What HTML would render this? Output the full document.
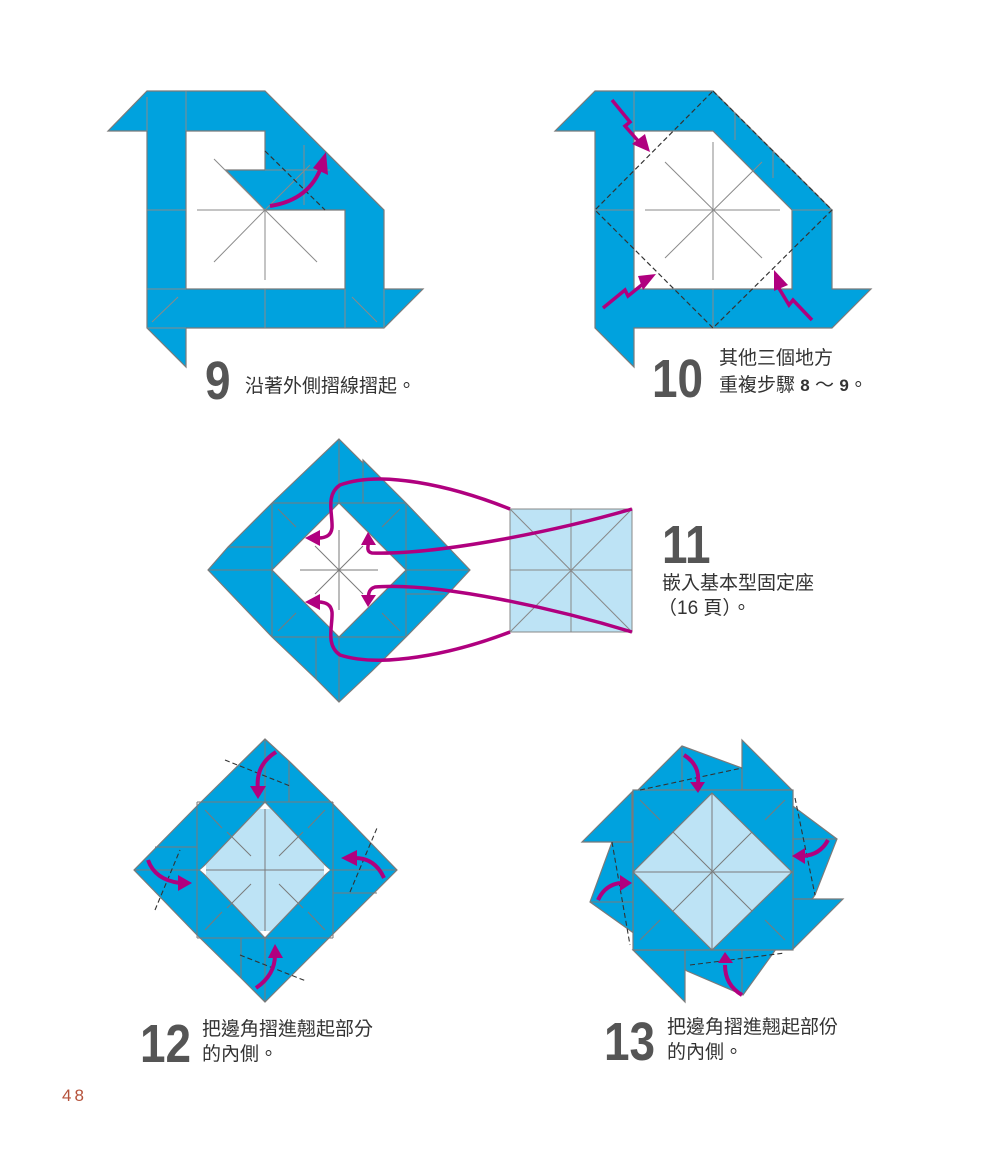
<!DOCTYPE html>
<html><head><meta charset="utf-8"><style>
html,body{margin:0;padding:0;background:#fff}
svg{display:block}
.t{font-family:"Liberation Sans","Noto Sans CJK TC",sans-serif;fill:#333}
.n{font-family:"Liberation Sans Narrow","Liberation Sans",sans-serif;font-weight:bold;fill:#555}
</style></head><body>
<svg width="1000" height="1158" viewBox="0 0 1000 1158" xmlns="http://www.w3.org/2000/svg">
<g stroke="#7a7a7a" stroke-width="1.2" fill="#00a2de">
<!-- FIG 9 -->
<polygon points="108,131 147,91 265,91 384,210 384,289 423,289 384,328 186,328 186,367 147,328 147,131"/>
<polygon fill="#fff" points="186,131 265,131 265,170 226,170 265,210 345,210 345,289 186,289"/>
</g>
<g stroke="#8a8a8a" stroke-width="1" fill="none">
<line x1="197" y1="210" x2="265" y2="210"/><line x1="265" y1="210" x2="265" y2="280"/>
<line x1="265" y1="210" x2="214" y2="262"/><line x1="265" y1="210" x2="317" y2="262"/>
<line x1="265" y1="210" x2="214" y2="159"/><line x1="265" y1="210" x2="310" y2="165"/>
<line x1="265" y1="170" x2="330" y2="170"/><line x1="304" y1="145" x2="304" y2="205"/>
<line x1="147" y1="210" x2="186" y2="210"/><line x1="186" y1="91" x2="186" y2="131"/><line x1="147" y1="97" x2="147" y2="131"/>
<line x1="265" y1="289" x2="265" y2="328"/><line x1="345" y1="289" x2="345" y2="328"/><line x1="384" y1="289" x2="384" y2="328"/>
<line x1="147" y1="289" x2="186" y2="289"/><line x1="147" y1="328" x2="186" y2="328"/><line x1="152" y1="322" x2="178" y2="297"/><line x1="352" y1="297" x2="377" y2="322"/>
</g>
<line x1="265" y1="151" x2="325" y2="210" stroke="#333" stroke-width="1.2" stroke-dasharray="5,3"/>
<path d="M270,206 Q310,200 322,165" stroke="#b0007f" stroke-width="4" fill="none"/>
<polygon points="313,168 326,152 328,175" fill="#b0007f"/>

<!-- FIG 10 -->
<g stroke="#7a7a7a" stroke-width="1.2" fill="#00a2de">
<polygon points="555,131 595,91 713,91 832,210 832,289 871,289 832,328 634,328 634,367 595,328 595,131"/>
<polygon fill="#fff" points="634,131 713,131 792,210 792,289 634,289"/>
</g>
<g stroke="#8a8a8a" stroke-width="1" fill="none">
<line x1="645" y1="210" x2="780" y2="210"/><line x1="713" y1="142" x2="713" y2="280"/>
<line x1="665" y1="162" x2="762" y2="258"/><line x1="665" y1="258" x2="762" y2="162"/>
<line x1="634" y1="91" x2="634" y2="131"/><line x1="713" y1="289" x2="713" y2="328"/><line x1="595" y1="210" x2="634" y2="210"/><line x1="792" y1="210" x2="832" y2="210"/>
<line x1="735" y1="112" x2="735" y2="140"/><line x1="773" y1="150" x2="773" y2="178"/>
</g>
<polygon points="713,91 832,210 713,328 595,210" fill="none" stroke="#333" stroke-width="1.2" stroke-dasharray="5,3"/>
<g stroke="#b0007f" stroke-width="3.5" fill="none">
<polyline points="612,100 630,122 625,126 640,143"/>
<polyline points="603,308 625,290 628,296 648,280"/>
<polyline points="812,320 793,300 789,305 777,285"/>
</g>
<g fill="#b0007f">
<polygon points="650,152 632,144 645,134"/>
<polygon points="656,274 643,290 638,276"/>
<polygon points="774,270 788,285 774,291"/>
</g>

<!-- FIG 11 -->
<g stroke="#7a7a7a" stroke-width="1.2" fill="#00a2de">
<polygon points="339,439 363,463 363,460 406,503 470,570 445,597 406,637 372,671 339,702 316,679 272,637 208,570 228,547 272,503"/>
<polygon fill="#fff" points="339,503 406,570 339,637 272,570"/>
</g>
<g stroke="#7a7a7a" stroke-width="1" fill="none">
<line x1="339" y1="439" x2="339" y2="503"/><line x1="339" y1="637" x2="339" y2="702"/>
<line x1="208" y1="570" x2="272" y2="570"/><line x1="406" y1="570" x2="470" y2="570"/>
<line x1="272" y1="503" x2="406" y2="503"/><line x1="272" y1="637" x2="406" y2="637"/>
<line x1="272" y1="503" x2="272" y2="637"/><line x1="406" y1="503" x2="406" y2="637"/>
<line x1="363" y1="463" x2="363" y2="503"/><line x1="316" y1="637" x2="316" y2="679"/>
<line x1="228" y1="547" x2="272" y2="547"/><line x1="406" y1="594" x2="445" y2="594"/>
<line x1="300" y1="570" x2="378" y2="570"/><line x1="339" y1="530" x2="339" y2="610"/>
<line x1="315" y1="546" x2="363" y2="594"/><line x1="315" y1="594" x2="363" y2="546"/>
<line x1="278" y1="509" x2="296" y2="527"/><line x1="400" y1="509" x2="382" y2="527"/>
<line x1="278" y1="631" x2="296" y2="613"/><line x1="400" y1="631" x2="382" y2="613"/>
</g>
<rect x="510" y="509" width="122" height="123" fill="#bde3f5" stroke="#888"/>
<g stroke="#888" stroke-width="1" fill="none">
<line x1="571" y1="509" x2="571" y2="632"/><line x1="510" y1="570" x2="632" y2="570"/>
<line x1="510" y1="509" x2="632" y2="632"/><line x1="632" y1="509" x2="510" y2="632"/>
</g>
<g stroke="#b0007f" stroke-width="3.5" fill="none">
<path d="M510,509 C450,485 380,470 340,485 C325,495 333,515 332,528 C331,536 325,538 318,538"/>
<path d="M632,509 C560,530 440,555 372,553 C366,552 368,546 369,540"/>
<path d="M632,632 C560,610 440,582 375,587 C368,589 368,596 369,600"/>
<path d="M510,632 C450,655 380,668 340,655 C325,645 333,625 332,612 C331,604 325,602 318,602"/>
</g>
<g fill="#b0007f">
<polygon points="305,538 320,530 320,546"/>
<polygon points="368,532 361,545 376,545"/>
<polygon points="368,607 361,595 376,595"/>
<polygon points="305,602 320,594 320,610"/>
</g>

<!-- FIG 12 -->
<g stroke="#7a7a7a" stroke-width="1.2" fill="#00a2de">
<polygon points="265,739 289,761 334,805 397,870 334,933 265,1002 241,978 197,935 134,870 197,806"/>
<polygon fill="#bde3f5" points="265,802 330,870 265,938 200,870"/>
</g>
<g stroke="#7a7a7a" stroke-width="1" fill="none">
<line x1="197" y1="802" x2="333" y2="802"/><line x1="197" y1="938" x2="333" y2="938"/>
<line x1="197" y1="802" x2="197" y2="938"/><line x1="333" y1="802" x2="333" y2="938"/>
<line x1="265" y1="739" x2="265" y2="1002"/><line x1="134" y1="870" x2="397" y2="870"/>
<line x1="289" y1="761" x2="289" y2="802"/><line x1="241" y1="938" x2="241" y2="978"/>
<line x1="155" y1="847" x2="197" y2="847"/><line x1="333" y1="893" x2="377" y2="893"/>
<line x1="227" y1="832" x2="251" y2="856"/><line x1="279" y1="856" x2="303" y2="832"/>
<line x1="227" y1="908" x2="251" y2="884"/><line x1="279" y1="884" x2="303" y2="908"/>
<line x1="205" y1="810" x2="222" y2="828"/><line x1="325" y1="810" x2="308" y2="828"/>
<line x1="205" y1="930" x2="222" y2="912"/><line x1="325" y1="930" x2="308" y2="912"/>
</g>
<g stroke="#333" stroke-width="1.1" stroke-dasharray="5,3">
<line x1="225" y1="760" x2="290" y2="786"/><line x1="240" y1="955" x2="306" y2="981"/>
<line x1="155" y1="910" x2="180" y2="850"/><line x1="350" y1="892" x2="377" y2="828"/>
</g>
<g stroke="#b0007f" stroke-width="4" fill="none">
<path d="M276,752 Q255,765 258,790"/><path d="M256,988 Q275,975 275,955"/>
<path d="M148,860 Q155,880 180,883"/><path d="M384,878 Q375,858 355,858"/>
</g>
<g fill="#b0007f">
<polygon points="250,786 266,786 258,799"/><polygon points="268,958 283,958 275,944"/>
<polygon points="178,875 192,883 178,891"/><polygon points="357,850 341,858 357,866"/>
</g>
<g fill="#fff"><polygon points="265,803 260,809 270,809"/><polygon points="265,937 260,931 270,931"/><polygon points="200,870 206,865 206,875"/><polygon points="330,870 324,865 324,875"/></g>

<!-- FIG 13 -->
<g stroke="#7a7a7a" stroke-width="1.2" fill="#00a2de">
<polygon points="682,746 742,768 837,839 815,895 743,995 687,971 590,902 612,842 638,790"/>
<polygon points="742,740 792,790 742,790"/>
<polygon points="582,842 632,792 632,842"/>
<polygon points="843,899 793,949 793,899"/>
<polygon points="685,1002 633,950 685,950"/>
<rect x="633" y="790" width="160" height="160"/>
<polygon fill="#bde3f5" points="712,793 792,872 712,950 633,872"/>
</g>
<g stroke="#7a7a7a" stroke-width="1" fill="none">
<line x1="712" y1="793" x2="712" y2="950"/><line x1="633" y1="872" x2="792" y2="872"/>
<line x1="673" y1="832" x2="752" y2="911"/><line x1="673" y1="911" x2="752" y2="832"/>
<line x1="682" y1="746" x2="682" y2="790"/><line x1="742" y1="950" x2="742" y2="995"/>
<line x1="590" y1="902" x2="633" y2="902"/><line x1="793" y1="839" x2="837" y2="839"/>
<line x1="640" y1="800" x2="660" y2="820"/><line x1="785" y1="800" x2="765" y2="820"/>
<line x1="640" y1="940" x2="660" y2="920"/><line x1="785" y1="940" x2="765" y2="920"/>
</g>
<g stroke="#333" stroke-width="1.1" stroke-dasharray="5,3">
<line x1="640" y1="790" x2="742" y2="768"/><line x1="690" y1="965" x2="785" y2="953"/>
<line x1="612" y1="842" x2="630" y2="945"/><line x1="795" y1="798" x2="815" y2="895"/>
</g>
<g stroke="#b0007f" stroke-width="4" fill="none">
<path d="M684,755 Q700,765 698,783"/><path d="M742,995 Q725,985 725,965"/>
<path d="M598,900 Q605,885 620,883"/><path d="M828,840 Q820,855 803,856"/>
</g>
<g fill="#b0007f">
<polygon points="690,782 705,782 698,793"/><polygon points="718,963 733,963 725,952"/>
<polygon points="620,875 632,883 620,891"/><polygon points="805,848 792,856 805,864"/>
</g>

<!-- TEXT -->
<text class="n" x="0" y="399" font-size="54" transform="translate(205,0) scale(0.85,1)">9</text>
<text class="t" x="245" y="392" font-size="19">沿著外側摺線摺起。</text>
<text class="n" x="0" y="397" font-size="54" transform="translate(652,0) scale(0.85,1)">10</text>
<text class="t" x="719" y="364" font-size="19">其他三個地方</text>
<text class="t" x="719" y="391" font-size="19">重複步驟 <tspan font-weight="bold" font-size="17">8</tspan> ～ <tspan font-weight="bold" font-size="17">9</tspan>。</text>
<text class="n" x="0" y="563" font-size="54" transform="translate(662,0) scale(0.85,1)">11</text>
<text class="t" x="662" y="589" font-size="19">嵌入基本型固定座</text>
<text class="t" x="658" y="614" font-size="19">（16 頁）。</text>
<text class="n" x="0" y="1062" font-size="54" transform="translate(140,0) scale(0.85,1)">12</text>
<text class="t" x="202" y="1035" font-size="19">把邊角摺進翹起部分</text>
<text class="t" x="202" y="1060" font-size="19">的內側。</text>
<text class="n" x="0" y="1060" font-size="54" transform="translate(604,0) scale(0.85,1)">13</text>
<text class="t" x="667" y="1033" font-size="19">把邊角摺進翹起部份</text>
<text class="t" x="667" y="1058" font-size="19">的內側。</text>
<text x="62" y="1101" font-family="Liberation Sans,sans-serif" font-size="17" fill="#b5523b" letter-spacing="3">48</text>
</svg>
</body></html>
